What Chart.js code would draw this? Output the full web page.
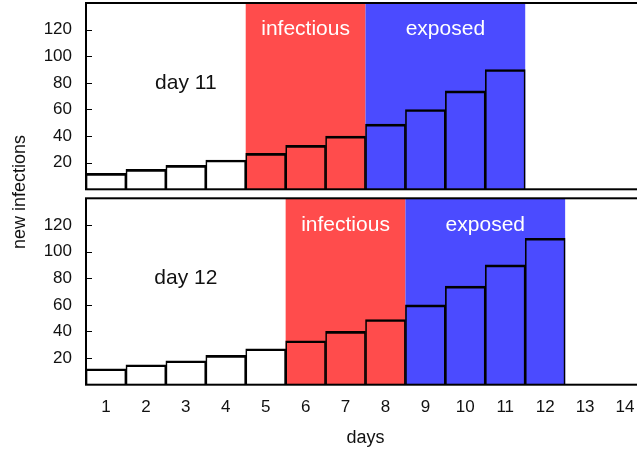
<!DOCTYPE html>
<html>
<head>
<meta charset="utf-8">
<script src="https://cdn.jsdelivr.net/npm/chart.js@4.4.1/dist/chart.umd.min.js"></script>
<style>
html, body { margin: 0; padding: 0; background: #fff; }
#wrap { position: relative; width: 637px; height: 456px; overflow: hidden; }
#wrap canvas { position: absolute; left: 0; top: 0; }
</style>
</head>
<body>
<div id="wrap">
  <canvas id="bottom" width="645" height="456"></canvas>
  <canvas id="top" width="645" height="195"></canvas>
</div>
<script>
var days = [1, 2, 3, 4, 5, 6, 7, 8, 9, 10, 11, 12, 13, 14];
var yTicks = [20, 40, 60, 80, 100, 120];

var day11Values = [12, 15, 18, 22, 27, 33, 40, 49, 60, 74, 90];
var day12Values = [12, 15, 18, 22, 27, 33, 40, 49, 60, 74, 90, 110];

// first and last day of each shaded period
var day11Infectious = [5, 7];
var day11Exposed = [8, 11];
var day12Infectious = [6, 8];
var day12Exposed = [9, 12];

var RED = '#ff4c4c';
var BLUE = '#4b4bff';
var FONT = '"Liberation Sans", Arial, sans-serif';

Chart.defaults.font.family = FONT;
Chart.defaults.color = '#111';

var panelPlugin = {
    id: 'panel',
    beforeDatasetsDraw: function (chart, args, opts) {
        var ctx = chart.ctx, a = chart.chartArea;
        var x = chart.scales.x, y = chart.scales.y;
        var dayPx = function (d) { return x.getPixelForValue(d - 1); };

        ctx.save();
        ctx.textAlign = 'center';
        ctx.textBaseline = 'middle';
        ctx.font = '21px ' + FONT;
        [[opts.infectious, RED, 'infectious'], [opts.exposed, BLUE, 'exposed']].forEach(function (r) {
            var x0 = dayPx(r[0][0] - 0.5), x1 = dayPx(r[0][1] + 0.5);
            ctx.fillStyle = r[1];
            ctx.fillRect(x0, a.top, x1 - x0, a.bottom - a.top);
            ctx.fillStyle = '#fff';
            ctx.fillText(r[2], (x0 + x1) / 2, y.getPixelForValue(120));
        });
        ctx.fillStyle = '#111';
        ctx.fillText(opts.label, dayPx(3), y.getPixelForValue(80));
        ctx.restore();
    },
    afterDatasetsDraw: function (chart, args, opts) {
        var ctx = chart.ctx, a = chart.chartArea, y = chart.scales.y;
        ctx.save();
        ctx.strokeStyle = '#000';
        ctx.lineWidth = 1;
        // short ticks pointing into the plot
        yTicks.forEach(function (v) {
            var py = Math.round(y.getPixelForValue(v)) + 0.5;
            ctx.beginPath();
            ctx.moveTo(a.left, py);
            ctx.lineTo(a.left + 6, py);
            ctx.stroke();
        });
        ctx.lineWidth = 2;
        ctx.strokeRect(a.left, a.top, a.right - a.left, a.bottom - a.top);

        if (opts.yTitle) {
            ctx.translate(25, 192);
            ctx.rotate(-Math.PI / 2);
            ctx.font = '18px ' + FONT;
            ctx.fillStyle = '#111';
            ctx.textAlign = 'center';
            ctx.textBaseline = 'alphabetic';
            ctx.fillText(opts.yTitle, 0, 0);
        }
        ctx.restore();
    }
};

function makePanel(id, values, infectious, exposed, label, isBottom) {
    return new Chart(document.getElementById(id), {
        type: 'bar',
        data: {
            labels: days,
            datasets: [{
                data: values,
                backgroundColor: 'rgba(0,0,0,0)',
                borderColor: '#000',
                borderWidth: {top: 2, left: 1, right: 1, bottom: 0},
                borderSkipped: false,
                barPercentage: 1,
                categoryPercentage: 1
            }]
        },
        plugins: [panelPlugin],
        options: {
            responsive: false,
            animation: false,
            layout: {
                padding: isBottom ? {top: 198.3, left: 0, right: 0, bottom: 0}
                                  : {top: 3, left: 0, right: 0, bottom: 5.7}
            },
            plugins: {
                legend: {display: false},
                tooltip: {enabled: false},
                panel: {
                    infectious: infectious,
                    exposed: exposed,
                    label: label,
                    yTitle: isBottom ? 'new infections' : null
                }
            },
            scales: {
                x: {
                    display: isBottom,
                    grid: {display: false, drawTicks: false},
                    border: {display: false},
                    ticks: {font: {size: 17}, padding: 12, maxRotation: 0, autoSkip: false},
                    title: {display: true, text: 'days', font: {size: 18}, padding: {top: 10, bottom: 7}},
                    afterFit: function (s) {
                        s.height = isBottom ? 71.3 : 0;
                        s.paddingLeft = 0;
                        s.paddingRight = 0;
                    }
                },
                y: {
                    min: 0,
                    max: 140,
                    grid: {display: false, drawTicks: false},
                    border: {display: false},
                    ticks: {font: {size: 17}, padding: 14},
                    afterBuildTicks: function (s) {
                        s.ticks = yTicks.map(function (v) { return {value: v}; });
                    },
                    afterFit: function (s) {
                        s.width = 86;
                        s.paddingTop = 0;
                        s.paddingBottom = 0;
                    }
                }
            }
        }
    });
}

makePanel('top', day11Values, day11Infectious, day11Exposed, 'day 11', false);
makePanel('bottom', day12Values, day12Infectious, day12Exposed, 'day 12', true);
</script>
</body>
</html>
